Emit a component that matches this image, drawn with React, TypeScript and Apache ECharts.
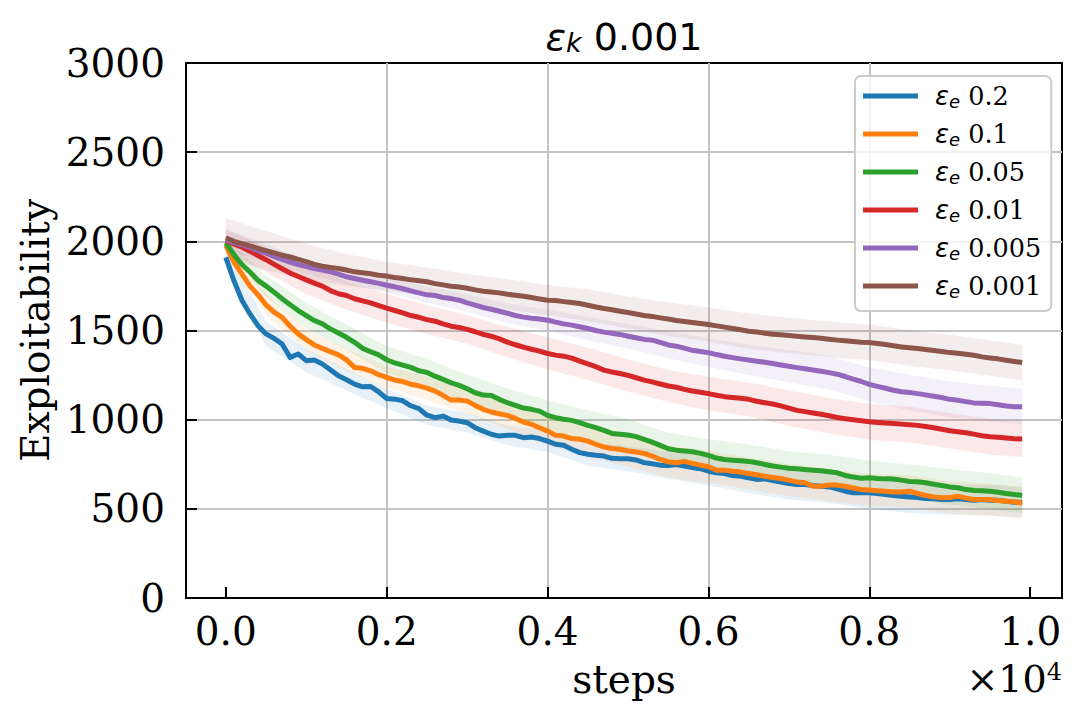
import { useEffect, useRef } from 'react';
import * as echarts from 'echarts';

// x samples (training steps)
const STEPS: number[] = Array.from({ length: 100 }, (_, i) => i * 100);
const X_TICKS = [0, 2000, 4000, 6000, 8000, 10000];

const EPS_LABELS = ['0.2', '0.1', '0.05', '0.01', '0.005', '0.001'];
const COLORS = ['#1f77b4', '#ff7f0e', '#2ca02c', '#d62728', '#9467bd', '#8c564b'];

const EPS_0_2 = [
  1910, 1780, 1670, 1593, 1527, 1481, 1456, 1424, 1349, 1368,
  1331, 1334, 1312, 1280, 1246, 1224, 1199, 1184, 1186, 1156,
  1119, 1115, 1106, 1078, 1062, 1025, 1011, 1020, 998, 992,
  983, 955, 936, 918, 908, 912, 912, 899, 903, 894,
  880, 862, 856, 834, 815, 806, 800, 796, 783, 781,
  781, 774, 759, 753, 745, 743, 749, 740, 732, 725,
  711, 702, 698, 687, 683, 674, 665, 668, 659, 650,
  642, 637, 637, 631, 627, 623, 612, 599, 590, 590,
  590, 586, 580, 575, 571, 567, 563, 558, 556, 552,
  552, 556, 552, 548, 552, 548, 548, 543, 537, 537,
];
const EPS_0_1 = [
  1977, 1884, 1818, 1749, 1700, 1644, 1603, 1574, 1524, 1481,
  1449, 1419, 1400, 1381, 1363, 1336, 1293, 1288, 1274, 1252,
  1237, 1222, 1214, 1199, 1190, 1177, 1160, 1136, 1110, 1110,
  1104, 1080, 1058, 1043, 1033, 1024, 1007, 987, 974, 955,
  936, 912, 908, 894, 890, 880, 862, 847, 838, 834,
  824, 819, 811, 796, 777, 764, 758, 766, 755, 745,
  736, 717, 717, 711, 706, 698, 691, 683, 676, 670,
  661, 651, 646, 627, 627, 634, 633, 627, 617, 608,
  605, 601, 599, 595, 595, 599, 586, 575, 567, 562,
  563, 571, 560, 552, 552, 552, 547, 543, 539, 533,
];
const EPS_0_05 = [
  1992, 1925, 1870, 1828, 1781, 1749, 1715, 1678, 1644, 1612,
  1584, 1556, 1537, 1509, 1486, 1462, 1434, 1400, 1381, 1363,
  1336, 1318, 1306, 1293, 1274, 1265, 1244, 1226, 1207, 1192,
  1173, 1151, 1138, 1136, 1114, 1095, 1080, 1065, 1058, 1048,
  1024, 1011, 1002, 996, 983, 968, 955, 940, 923, 918,
  914, 905, 890, 874, 856, 837, 829, 824, 820, 811,
  800, 785, 777, 773, 770, 766, 758, 749, 740, 734,
  728, 725, 721, 717, 713, 708, 702, 687, 678, 672,
  674, 670, 668, 667, 661, 653, 652, 646, 638, 631,
  623, 618, 608, 603, 601, 599, 593, 586, 580, 576,
];
const EPS_0_01 = [
  2005, 1985, 1968, 1944, 1921, 1897, 1871, 1846, 1822, 1803,
  1784, 1766, 1749, 1724, 1706, 1696, 1678, 1666, 1655, 1640,
  1625, 1612, 1599, 1584, 1574, 1561, 1552, 1537, 1524, 1517,
  1506, 1493, 1478, 1468, 1453, 1435, 1420, 1407, 1395, 1384,
  1371, 1362, 1356, 1345, 1328, 1313, 1297, 1278, 1267, 1259,
  1248, 1235, 1222, 1212, 1200, 1189, 1182, 1170, 1161, 1154,
  1146, 1137, 1129, 1124, 1120, 1114, 1103, 1095, 1088, 1077,
  1065, 1052, 1045, 1037, 1030, 1022, 1012, 1005, 999, 994,
  988, 984, 981, 978, 975, 972, 968, 962, 955, 946,
  938, 932, 927, 919, 910, 904, 902, 897, 893, 891,
];
const EPS_0_005 = [
  2010, 1993, 1981, 1966, 1948, 1934, 1916, 1899, 1884, 1869,
  1858, 1848, 1839, 1829, 1816, 1801, 1792, 1782, 1773, 1764,
  1754, 1745, 1734, 1722, 1711, 1700, 1696, 1685, 1679, 1670,
  1655, 1642, 1629, 1619, 1608, 1597, 1584, 1575, 1569, 1565,
  1558, 1547, 1537, 1530, 1521, 1511, 1500, 1491, 1485, 1478,
  1468, 1459, 1450, 1446, 1433, 1419, 1412, 1401, 1389, 1382,
  1376, 1365, 1356, 1348, 1341, 1335, 1328, 1322, 1315, 1307,
  1300, 1292, 1285, 1279, 1272, 1264, 1255, 1242, 1227, 1214,
  1198, 1187, 1176, 1165, 1157, 1152, 1146, 1139, 1131, 1124,
  1114, 1109, 1101, 1094, 1092, 1090, 1084, 1077, 1073, 1073,
];
const EPS_0_001 = [
  2020, 2000, 1987, 1974, 1961, 1948, 1935, 1923, 1912, 1899,
  1886, 1871, 1861, 1854, 1848, 1839, 1829, 1824, 1818, 1810,
  1805, 1797, 1792, 1784, 1779, 1773, 1763, 1756, 1748, 1744,
  1737, 1728, 1720, 1716, 1711, 1703, 1698, 1692, 1685, 1677,
  1670, 1668, 1662, 1657, 1651, 1642, 1632, 1623, 1616, 1608,
  1601, 1593, 1584, 1579, 1571, 1564, 1556, 1551, 1545, 1539,
  1534, 1526, 1519, 1511, 1504, 1496, 1491, 1485, 1479, 1476,
  1472, 1468, 1464, 1461, 1457, 1451, 1446, 1442, 1438, 1434,
  1433, 1427, 1421, 1414, 1408, 1403, 1399, 1393, 1388, 1382,
  1376, 1373, 1367, 1361, 1352, 1346, 1341, 1333, 1326, 1320,
];

// spread (std) of each run, read at every 500 steps (index into STEPS)
const BAND_INDEX = [0, 5, 10, 15, 20, 25, 30, 35, 40, 45, 50, 55, 60, 65, 70, 75, 80, 85, 90, 95, 99];
const STD_0_2 = [50, 70, 65, 60, 55, 55, 55, 55, 60, 65, 70, 75, 80, 85, 90, 90, 90, 90, 85, 85, 85];
const STD_0_1 = [40, 60, 60, 60, 60, 65, 70, 75, 80, 85, 90, 90, 90, 90, 90, 90, 90, 90, 90, 90, 90];
const STD_0_05 = [30, 60, 70, 70, 75, 75, 80, 80, 85, 85, 90, 90, 90, 95, 95, 95, 95, 95, 100, 100, 100];
const STD_0_01 = [60, 70, 80, 80, 80, 80, 80, 85, 90, 90, 90, 90, 95, 95, 100, 100, 100, 100, 100, 100, 100];
const STD_0_005 = [60, 50, 40, 40, 40, 45, 50, 55, 60, 65, 70, 75, 80, 85, 90, 95, 95, 100, 100, 100, 100];
const STD_0_001 = [110, 110, 100, 90, 80, 80, 80, 85, 85, 90, 90, 95, 95, 100, 100, 100, 100, 100, 100, 100, 100];

const MEANS = [EPS_0_2, EPS_0_1, EPS_0_05, EPS_0_01, EPS_0_005, EPS_0_001];
const STDS = [STD_0_2, STD_0_1, STD_0_05, STD_0_01, STD_0_005, STD_0_001];

const SERIF = 'DejaVu Serif';
const SANS = 'DejaVu Sans';

function seriesName(i: number) {
  return 'ε_e ' + EPS_LABELS[i];
}

export default function App() {
  const ref = useRef<HTMLDivElement>(null);

  useEffect(() => {
    if (!ref.current) return;
    const chart = echarts.init(ref.current, undefined, { renderer: 'svg' });

    const bandSeries = MEANS.map((mean, si) => ({
      type: 'custom',
      name: 'band ' + EPS_LABELS[si],
      coordinateSystem: 'cartesian2d',
      silent: true,
      clip: true,
      z: 1,
      data: [[STEPS[0], mean[0]]],
      renderItem: (_params: any, api: any) => {
        const std = STDS[si];
        const upper = BAND_INDEX.map((idx, k) => api.coord([STEPS[idx], mean[idx] + std[k]]));
        const lower = BAND_INDEX.map((idx, k) => api.coord([STEPS[idx], mean[idx] - std[k]])).reverse();
        return {
          type: 'polygon',
          shape: { points: upper.concat(lower) },
          style: { fill: COLORS[si], opacity: 0.1 },
        };
      },
    }));

    const lineSeries = MEANS.map((mean, si) => ({
      type: 'line',
      name: seriesName(si),
      data: STEPS.map((s, i) => [s, mean[i]]),
      symbol: 'none',
      showSymbol: false,
      smooth: false,
      z: 3,
      color: COLORS[si],
      emphasis: { disabled: true },
      lineStyle: { width: 5, color: COLORS[si], join: 'round' },
    }));

    const option: any = {
      animation: false,
      backgroundColor: '#ffffff',
      grid: {
        left: 186,
        top: 63,
        width: 876,
        height: 535,
        show: true,
        borderColor: '#000000',
        borderWidth: 2,
        backgroundColor: 'transparent',
        containLabel: false,
        outerBoundsMode: 'none',
      },
      xAxis: {
        type: 'value',
        min: -495,
        max: 10395,
        name: 'steps',
        nameLocation: 'middle',
        nameGap: 62,
        nameTextStyle: { fontFamily: SERIF, fontSize: 39, color: '#000', lineHeight: 39 },
        axisLine: { show: true, onZero: false, lineStyle: { color: '#000', width: 2 } },
        axisTick: {
          show: true,
          inside: true,
          length: 11,
          customValues: X_TICKS,
          lineStyle: { color: '#000', width: 2 },
        },
        axisLabel: {
          customValues: X_TICKS,
          margin: 14,
          fontFamily: SERIF,
          fontSize: 39,
          lineHeight: 39,
          color: '#000',
          formatter: (v: number) => (v / 10000).toFixed(1),
          hideOverlap: false,
        },
        splitLine: {
          show: true,
          showMinLine: false,
          showMaxLine: false,
          lineStyle: { color: '#c4c4c4', width: 2 },
        },
      },
      yAxis: {
        type: 'value',
        min: 0,
        max: 3000,
        interval: 500,
        name: 'Exploitability',
        nameLocation: 'middle',
        nameGap: 131,
        nameTextStyle: { fontFamily: SERIF, fontSize: 39, color: '#000', lineHeight: 39 },
        axisLine: { show: true, onZero: false, lineStyle: { color: '#000', width: 2 } },
        axisTick: { show: true, inside: true, length: 11, lineStyle: { color: '#000', width: 2 } },
        axisLabel: {
          margin: 21,
          fontFamily: SERIF,
          fontSize: 39,
          lineHeight: 39,
          color: '#000',
          hideOverlap: false,
          formatter: (v: number) => String(v),
        },
        splitLine: {
          show: true,
          showMinLine: false,
          showMaxLine: false,
          lineStyle: { color: '#c4c4c4', width: 2 },
        },
      },
      legend: {
        show: true,
        orient: 'vertical',
        left: 855,
        top: 76,
        padding: [7, 10, 11, 8],
        itemGap: 11,
        itemWidth: 55,
        itemHeight: 5,
        icon: 'rect',
        backgroundColor: 'rgba(255,255,255,0.8)',
        borderColor: '#cccccc',
        borderWidth: 2,
        borderRadius: 6,
        data: EPS_LABELS.map((_, i) => seriesName(i)),
        selectedMode: false,
        formatter: (name: string) => {
          const i = EPS_LABELS.findIndex((_, k) => seriesName(k) === name);
          return '{eps|ε}{sub|e}{num| ' + EPS_LABELS[i] + '}';
        },
        textStyle: {
          color: '#000',
          rich: {
            eps: { fontFamily: SANS, fontStyle: 'italic', fontSize: 26, lineHeight: 28, padding: [0, 0, 0, 12], color: '#000' },
            sub: { fontFamily: SANS, fontStyle: 'italic', fontSize: 18, lineHeight: 20, verticalAlign: 'bottom', color: '#000' },
            num: { fontFamily: SERIF, fontSize: 25.5, lineHeight: 28, color: '#000' },
          },
        },
      },
      graphic: [
        {
          type: 'text',
          x: 624,
          y: 37,
          silent: true,
          style: {
            text: '{eps|ε}{sub|k}{num| 0.001}',
            align: 'center',
            verticalAlign: 'middle',
            rich: {
              eps: { fontFamily: SANS, fontStyle: 'italic', fontSize: 38, lineHeight: 38, fill: '#000' },
              sub: { fontFamily: SANS, fontStyle: 'italic', fontSize: 27, lineHeight: 24, verticalAlign: 'bottom', fill: '#000' },
              num: { fontFamily: SANS, fontSize: 38, lineHeight: 38, fill: '#000' },
            },
          },
        },
        {
          type: 'text',
          x: 1062,
          y: 679,
          silent: true,
          style: {
            text: '{t|×10}{s|4}',
            align: 'right',
            verticalAlign: 'middle',
            rich: {
              t: { fontFamily: SERIF, fontSize: 38, lineHeight: 38, fill: '#000' },
              s: { fontFamily: SERIF, fontSize: 24, lineHeight: 20, verticalAlign: 'top', fill: '#000' },
            },
          },
        },
      ],
      series: [...bandSeries, ...lineSeries],
    };

    chart.setOption(option);
    return () => {
      chart.dispose();
    };
  }, []);

  return (
    <div
      ref={ref}
      style={{ position: 'absolute', left: 0, top: 0, width: 1080, height: 720, background: '#fff' }}
    />
  );
}
